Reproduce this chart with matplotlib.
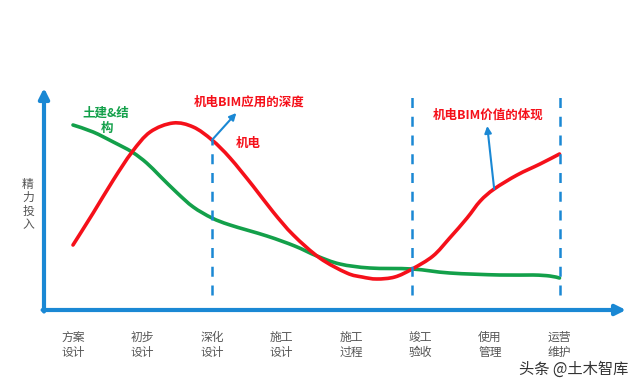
import matplotlib
matplotlib.use("Agg")
import matplotlib.pyplot as plt
from matplotlib.path import Path
from matplotlib.patches import PathPatch

plt.rcParams['font.family'] = ['Noto Sans CJK SC', 'DejaVu Sans']

# 阶段 (x 轴位置 = 序号)
stages = ["方案\n设计", "初步\n设计", "深化\n设计", "施工\n设计",
          "施工\n过程", "竣工\n验收", "使用\n管理", "运营\n维护"]

# 土建&结构 曲线 (阶段, 精力投入)
civil_x = [0, 0.29, 0.58, 0.85, 1.06, 1.25, 1.50, 1.73, 2.0, 2.26, 2.79,
           3.19, 3.51, 3.84, 4.27, 4.88, 5.42, 6.14, 6.62, 6.86, 7.0]
civil_y = [185, 178, 168, 158, 147, 134, 117, 103, 92, 85, 74,
           64, 54, 46, 42, 41, 37, 35, 35, 34, 32]

# 机电 曲线
mep_x = [0, 0.29, 0.58, 0.85, 1.11, 1.44, 1.73, 2.0, 2.26, 2.59, 2.88,
         3.17, 3.55, 3.94, 4.16, 4.37, 4.63, 4.88, 5.18, 5.42, 5.67,
         5.86, 6.06, 6.39, 6.72, 7.0]
mep_y = [65, 97, 130, 158, 178, 187, 183, 170, 152, 124, 98,
         75, 52, 37, 33, 31, 33, 41, 54, 72, 92,
         109, 121, 135, 146, 156]

# 虚线分隔 (x, 顶端)
dash_x = [2.0, 4.88, 7.0]
dash_top = [170, 218, 218]

BLUE = "#1a88d4"
RED = "#f5101a"
GREEN = "#13a04a"
GRAY = "#555555"


def smooth_path(xs, ys):
    # 经过各点的平滑贝塞尔曲线 (Catmull-Rom 控制点)
    pts = list(zip(xs, ys))
    verts = [pts[0]]
    codes = [Path.MOVETO]
    for i in range(len(pts) - 1):
        p0 = pts[i - 1] if i > 0 else pts[i]
        p1, p2 = pts[i], pts[i + 1]
        p3 = pts[i + 2] if i + 2 < len(pts) else pts[i + 1]
        c1 = (p1[0] + (p2[0] - p0[0]) / 6, p1[1] + (p2[1] - p0[1]) / 6)
        c2 = (p2[0] - (p3[0] - p1[0]) / 6, p2[1] - (p3[1] - p1[1]) / 6)
        verts += [c1, c2, p2]
        codes += [Path.CURVE4] * 3
    return Path(verts, codes)


fig = plt.figure(figsize=(6.4, 3.89), dpi=100)
ax = fig.add_axes([0, 0, 1, 1])
ax.set_xlim(-73 / 69.5, (640 - 73) / 69.5)
ax.set_ylim(310 - 389, 310)
ax.axis("off")

# 坐标轴 (带箭头)
x0 = (44 - 73) / 69.5
ax.annotate("", xy=(x0, 222), xytext=(x0, -1.5),
            arrowprops=dict(arrowstyle="-|>,head_length=0.6,head_width=0.3",
                            color=BLUE, lw=3, shrinkA=0, shrinkB=0))
ax.annotate("", xy=((626 - 73) / 69.5, 0), xytext=(x0 - 0.02, 0),
            arrowprops=dict(arrowstyle="-|>,head_length=0.6,head_width=0.3",
                            color=BLUE, lw=3, shrinkA=0, shrinkB=0))

# 虚线
for dx, top in zip(dash_x, dash_top):
    ax.plot([dx, dx], [15, top], color=BLUE, lw=1.8, ls=(0, (4, 3.5)))

ax.add_patch(PathPatch(smooth_path(civil_x, civil_y), fill=False,
                       edgecolor=GREEN, lw=2.6, capstyle="round"))
ax.add_patch(PathPatch(smooth_path(mep_x, mep_y), fill=False,
                       edgecolor=RED, lw=2.6, capstyle="round"))

# 指示箭头
ax.annotate("", xy=(2.35, 197), xytext=(2.0, 170),
            arrowprops=dict(arrowstyle="-|>,head_length=0.4,head_width=0.2",
                            color=BLUE, lw=1.5, shrinkA=0, shrinkB=0))
ax.annotate("", xy=(5.96, 184), xytext=(6.06, 121),
            arrowprops=dict(arrowstyle="-|>,head_length=0.4,head_width=0.2",
                            color=BLUE, lw=1.5, shrinkA=0, shrinkB=0))

# 文字
ax.text(0.47, 197, "土建&结", color=GREEN, fontsize=9, fontweight="bold",
        ha="center", va="center")
ax.text(0.49, 182, "构", color=GREEN, fontsize=9, fontweight="bold",
        ha="center", va="center")
ax.text(2.53, 208, "机电BIM应用的深度", color=RED, fontsize=9, fontweight="bold",
        ha="center", va="center")
ax.text(2.52, 167, "机电", color=RED, fontsize=9, fontweight="bold",
        ha="center", va="center")
ax.text(5.97, 195, "机电BIM价值的体现", color=RED, fontsize=9, fontweight="bold",
        ha="center", va="center")

for i, ch in enumerate("精力投入"):
    ax.text((28 - 73) / 69.5, 126 - i * 13.5, ch, color=GRAY, fontsize=8.5,
            ha="center", va="center")

for i, lab in enumerate(stages):
    ax.text(i, -35, lab, color=GRAY, fontsize=8.5, ha="center", va="center",
            linespacing=1.25)

ax.text((628 - 73) / 69.5, -59, "头条 @土木智库", color="#333333", fontsize=11,
        ha="right", va="center")

plt.savefig("out.png", dpi=100)
